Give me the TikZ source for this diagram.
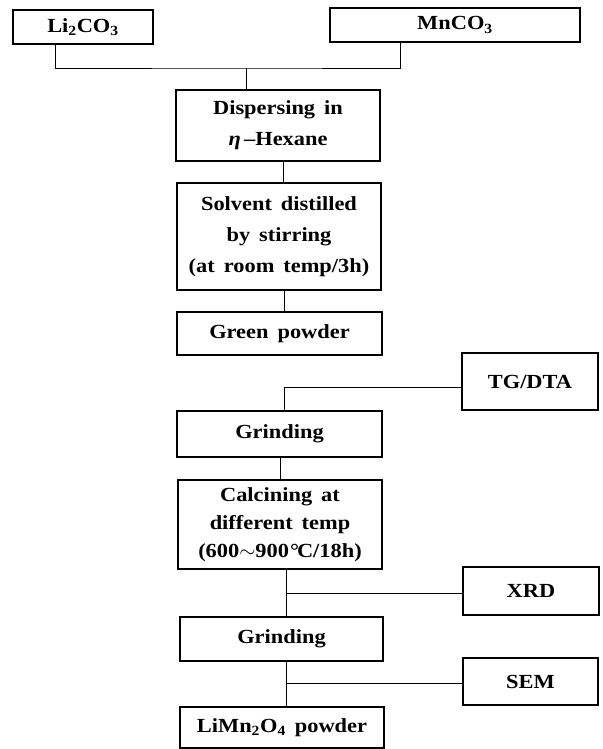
\documentclass[tikz,border=0pt]{standalone}
\usepackage{fontspec}
\setmainfont{Liberation Serif}[FakeStretch=1.12]
\begin{document}
\begin{tikzpicture}[x=1pt,y=-1pt,
  box/.style={draw, line width=1.2pt, inner sep=0pt, align=center, text=black,
    font={\fontsize{20}{31}\selectfont\bfseries\spaceskip=0.45em plus 0.1em minus 0.1em}},
  link/.style={draw, line width=0.9pt}]
\useasboundingbox (0,0) rectangle (602,749);
\fill[white] (0,0) rectangle (602,749);
% nodes
\node[box, minimum width=140pt, minimum height=34pt] (li) at (83,27) {Li\textsubscript{2}CO\textsubscript{3}};
\node[box, minimum width=250pt, minimum height=34pt] (mn) at (455,25) {MnCO\textsubscript{3}};
\node[box, minimum width=204pt, minimum height=71pt] (disp) at (278,125.5) {Dispersing in\\{\itshape η}\,--Hexane};
\node[box, minimum width=204pt, minimum height=107pt] (solv) at (279,236.5) {Solvent distilled\\by stirring\\(at room temp/3h)};
\node[box, minimum width=205pt, minimum height=43pt] (green) at (279.5,333.5) {Green powder};
\node[box, minimum width=136pt, minimum height=57pt] (tg) at (530,381.5) {TG/DTA};
\node[box, minimum width=205pt, minimum height=46pt] (grind1) at (279.5,434) {Grinding};
\node[box, minimum width=204pt, minimum height=89pt,
  font={\fontsize{20}{28}\selectfont\bfseries\spaceskip=0.45em plus 0.1em minus 0.1em}] (calc) at (280,524.5)
  {Calcining at\\different temp\\(600$\sim$900\kern1pt\textdegree\kern-2pt C/18h)};
\node[box, minimum width=136pt, minimum height=48pt] (xrd) at (531,591) {XRD};
\node[box, minimum width=203pt, minimum height=44pt] (grind2) at (281.5,639) {Grinding};
\node[box, minimum width=135pt, minimum height=47pt] (sem) at (530.5,681.5) {SEM};
\node[box, minimum width=204pt, minimum height=41pt] (limn) at (282,727.5) {LiMn\textsubscript{2}O\textsubscript{4} powder};
% junction coordinates
\coordinate (lix) at (55,0);
\coordinate (mnx) at (400,0);
\coordinate (j0) at (246,68);
\coordinate (c1) at (283,0);
\coordinate (c2) at (284,0);
\coordinate (jt) at (284,387);
\coordinate (c3) at (280,0);
\coordinate (jx) at (286,593);
\coordinate (js) at (286,683);
% connectors
\draw[link] (li.south -| lix) |- (j0) -| (mn.south -| mnx);
\draw[link] (j0) -- (disp.north -| j0);
\draw[link] (disp.south -| c1) -- (solv.north -| c1);
\draw[link] (solv.south -| c2) -- (green.north -| c2);
\draw[link] (tg.west |- jt) -- (jt) -- (grind1.north -| jt);
\draw[link] (grind1.south -| c3) -- (calc.north -| c3);
\draw[link] (calc.south -| jx) -- (grind2.north -| jx);
\draw[link] (jx) -- (xrd.west |- jx);
\draw[link] (grind2.south -| js) -- (limn.north -| js);
\draw[link] (js) -- (sem.west |- js);
\end{tikzpicture}
\end{document}
